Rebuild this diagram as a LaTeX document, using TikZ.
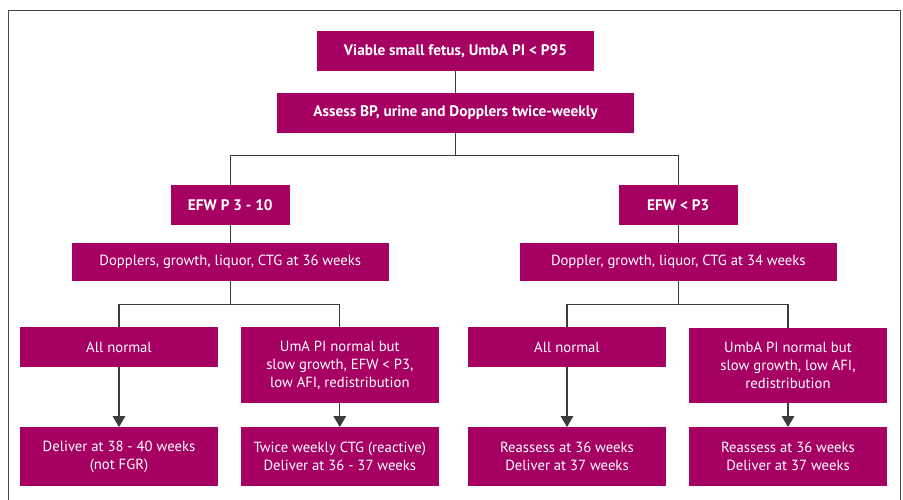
\documentclass[tikz,border=0pt]{standalone}
\usepackage{fontspec}
\setmainfont{PT Sans}
\usetikzlibrary{arrows.meta, positioning}
\definecolor{boxmagenta}{RGB}{166, 0, 98}
\definecolor{linegray}{RGB}{60, 60, 60}
\definecolor{framegray}{RGB}{70, 70, 70}

\begin{document}
\begin{tikzpicture}[x=1pt, y=-1pt,
    box/.style={rectangle, fill=boxmagenta, text=white, inner sep=0pt, align=center, font=\fontsize{14.7}{18}\selectfont},
    headbox/.style={box, font=\fontsize{15.3}{18}\selectfont\bfseries},
    link/.style={draw=linegray, line width=1.2pt},
    arrow/.style={link, -{Triangle[length=11pt, width=12.5pt]}}
]
\useasboundingbox (0,0) rectangle (903,500);
\draw[draw=framegray, line width=1.3pt] (8.7,500) -- (8.7,10.7) -- (900.5,10.7) -- (900.5,500);

\node[headbox, minimum width=277.4pt, minimum height=39.7pt] (viable) at (455.5,50.9) {Viable small fetus, UmbA PI < P95};

\node[headbox, minimum width=357pt, minimum height=39.7pt] (assess) at (455.5,112.8) {Assess BP, urine and Dopplers twice-weekly};

\node[headbox, minimum width=118.7pt, minimum height=39.7pt] (efwmid) at (230.3,204.8) {EFW P 3 - 10};
\node[headbox, minimum width=118.7pt, minimum height=39.7pt] (efwlow) at (678.3,204.8) {EFW < P3};

\node[box, minimum width=316.7pt, minimum height=37.7pt] (scanmid) at (230.3,261.8) {Dopplers, growth, liquor, CTG at 36 weeks};
\node[box, minimum width=316.7pt, minimum height=37.7pt] (scanlow) at (678.3,261.8) {Doppler, growth, liquor, CTG at 34 weeks};

\node[box, minimum width=197.4pt, minimum height=39.4pt] (normmid) at (119,347) {All normal};
\node[box, minimum width=197.4pt, minimum height=75.4pt] (slowmid) at (339.8,365) {UmA PI normal but\\slow growth, EFW < P3,\\low AFI, redistribution};
\node[box, minimum width=197.4pt, minimum height=39.4pt] (normlow) at (567,347) {All normal};
\node[box, minimum width=197.4pt, minimum height=75.4pt] (slowlow) at (788,365.5) {UmbA PI normal but\\slow growth, low AFI,\\redistribution};

\node[box, minimum width=197.4pt, minimum height=58.4pt] (delnorm) at (119,456.5) {Deliver at 38 - 40 weeks\\(not FGR)};
\node[box, minimum width=197.4pt, minimum height=58.4pt] (delslow) at (339.8,456.5) {Twice weekly CTG (reactive)\\Deliver at 36 - 37 weeks};
\node[box, minimum width=197.4pt, minimum height=58.4pt] (renorm) at (567,456.5) {Reassess at 36 weeks\\Deliver at 37 weeks};
\node[box, minimum width=197.4pt, minimum height=58.4pt] (reslow) at (788,456.5) {Reassess at 36 weeks\\Deliver at 37 weeks};

% forks
\coordinate (forktop) at (455.5,155.3);
\coordinate (forkmid) at (230.3,304.7);
\coordinate (forklow) at (678.3,304.7);

\draw[link] (viable) -- (assess);
\draw[link] (assess) -- (forktop);
\draw[link] (forktop) -| (efwmid);
\draw[link] (forktop) -| (efwlow);
\draw[link] (efwmid) -- (scanmid);
\draw[link] (efwlow) -- (scanlow);
\draw[link] (scanmid) -- (forkmid);
\draw[link] (scanlow) -- (forklow);
\draw[link] (forkmid) -| (normmid);
\draw[link] (forkmid) -| (slowmid);
\draw[link] (forklow) -| (normlow);
\draw[link] (forklow) -| (slowlow);

\draw[arrow] (normmid) -- (delnorm);
\draw[arrow] (slowmid) -- (delslow);
\draw[arrow] (normlow) -- (renorm);
\draw[arrow] (slowlow) -- (reslow);

\end{tikzpicture}
\end{document}
